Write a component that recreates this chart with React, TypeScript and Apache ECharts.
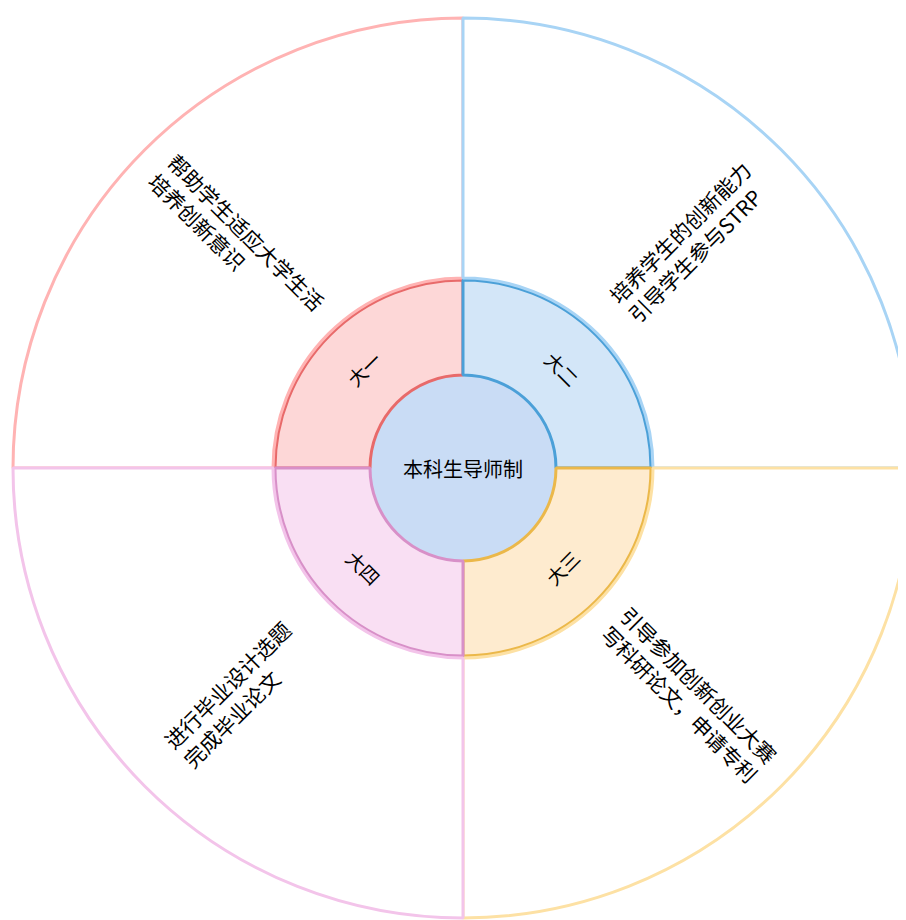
import React, { useEffect, useRef } from "react";
import * as echarts from "echarts";

const centerName = "本科生导师制";
const gradeNames = ["大一", "大二", "大三", "大四"];
const goalTexts = [
  ["帮助学生适应大学生活", "培养创新意识"],
  ["培养学生的创新能力", "引导学生参与STRP"],
  ["引导参加创新创业大赛", "写科研论文，申请专利"],
  ["进行毕业设计选题", "完成毕业论文"],
];
const leafValues = [1, 1, 1, 1];

const innerFills = ["#fdd7d7", "#d3e6f8", "#feebcf", "#f9dff3"];
const innerBorders = ["#e86a6a", "#4ba0d8", "#ebb84a", "#d890c8"];
const outerBorders = ["#ffb3b3", "#a8d4f5", "#fde1a4", "#f3c4ea"];

const FONT = '"Noto Sans CJK SC", "Noto Sans", sans-serif';

export default function App() {
  const ref = useRef<HTMLDivElement>(null);
  useEffect(() => {
    if (!ref.current) return;
    const chart = echarts.init(ref.current, undefined, { renderer: "svg" });
    const children = gradeNames.map((g, i) => ({
      name: g,
      itemStyle: { color: innerFills[i], borderColor: innerBorders[i], borderWidth: 3 },
      children: [
        {
          name: goalTexts[i].join("\n"),
          value: leafValues[i],
          itemStyle: { color: "#ffffff", borderColor: outerBorders[i], borderWidth: 3 },
        },
      ],
    }));
    chart.setOption({
      animation: false,
      series: [
        {
          type: "sunburst",
          center: [455, 460],
          startAngle: 180,
          sort: null,
          nodeClick: false,
          emphasis: { focus: "none" },
          data: [
            {
              name: centerName,
              itemStyle: { color: "#c9dcf5", borderWidth: 0 },
              children,
            },
          ],
          levels: [
            {},
            {
              r0: 0,
              r: 93,
              label: { rotate: 0, fontSize: 20, color: "#000", fontFamily: FONT },
            },
            {
              r0: 93,
              r: 188,
              label: { rotate: "tangential", fontSize: 19, color: "#000", fontFamily: FONT },
            },
            {
              r0: 190,
              r: 450,
              label: {
                rotate: "radial",
                color: "#000",
                fontFamily: FONT,
                formatter: (p: any) =>
                  String(p.name)
                    .split("\n")
                    .map((l: string) => `{a|${l}}`)
                    .join("\n"),
                rich: {
                  a: {
                    fontSize: 21,
                    lineHeight: 27,
                    align: "left",
                    color: "#000",
                    fontFamily: FONT,
                  },
                },
              },
            },
          ],
        },
      ],
    });
    return () => chart.dispose();
  }, []);
  return <div ref={ref} style={{ width: 898, height: 912 }} />;
}
